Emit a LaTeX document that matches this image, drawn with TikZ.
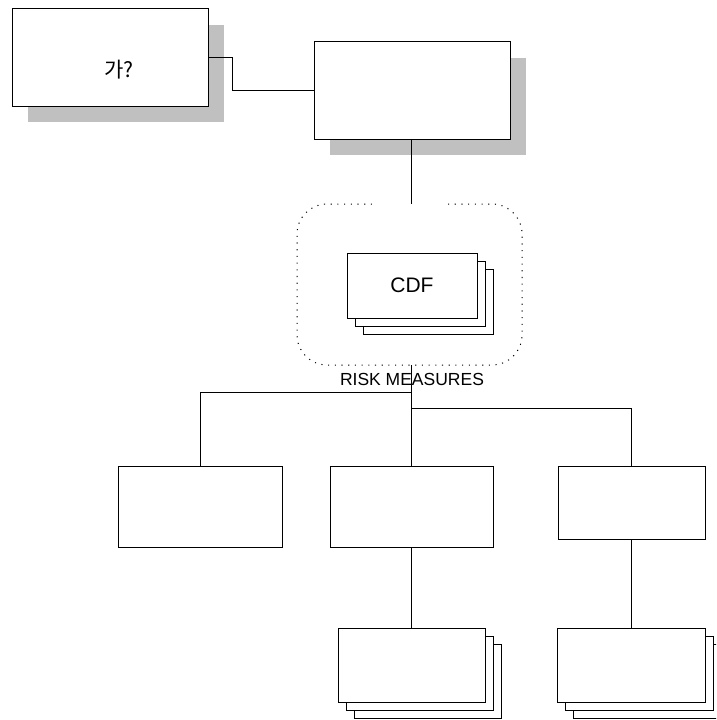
\documentclass[tikz,border=0pt]{standalone}
\usepackage{fontspec}
\setmainfont{Liberation Sans}
\newfontfamily\cjk{Noto Sans CJK KR}
\usetikzlibrary{shadows}
\definecolor{shadegray}{HTML}{C0C0C0}
\begin{document}
\begin{tikzpicture}[x=1pt,y=-1pt,
  box/.style={draw=black, fill=white, line width=1pt, inner sep=0pt, outer sep=0pt},
  shade/.style={fill=shadegray, draw=none, inner sep=0pt, outer sep=0pt},
  stack/.style={box, double copy shadow={shadow xshift=8pt, shadow yshift=-8pt, draw=black, fill=white, line width=1pt}},
  wire/.style={draw=black, line width=1pt},
  rim/.style={draw=black, line width=1pt, dash pattern=on 1.1pt off 5.6pt, rounded corners=30pt}]
\useasboundingbox (0,0) rectangle (716,720);
\clip (0,0) rectangle (716,720);

% top boxes with drop shadows
\node[shade, minimum width=196pt, minimum height=97pt] (s1) at (126,73.5) {};
\node[box, minimum width=196pt, minimum height=98pt] (b1) at (110,57) {};
\node[inner sep=0pt, font=\cjk\fontsize{21}{25}\selectfont] (t1) at (119,70) {가?};
\node[shade, minimum width=196pt, minimum height=97pt] (s2) at (428,106.5) {};
\node[box, minimum width=196pt, minimum height=98pt] (b2) at (412,90) {};

\draw[wire] (b1.east) -- ++(24,0) |- (b2.west);

% dotted group with the CDF stack
\coordinate (gtop) at (411.5,204);
\coordinate (gbot) at (411.5,365);
\draw[rim] (448,204) -- (522,204) -- (522,365) -- (297,365) -- (297,204) -- (373,204);
\node[stack, minimum width=130pt, minimum height=65pt, font=\fontsize{21}{25}\selectfont] (cdf) at (412,285.5) {CDF};
\draw[wire] (b2.south -| gtop) -- (gtop);

% tree below the group
\node[box, minimum width=164pt, minimum height=81pt] (lb) at (200,506.5) {};
\node[box, minimum width=163pt, minimum height=81pt] (mb) at (411.5,506.5) {};
\node[box, minimum width=147pt, minimum height=73pt] (rb) at (631.5,502.5) {};
\coordinate (jl) at (411.5,392);
\coordinate (jr) at (411.5,408);
\draw[wire] (gbot) -- (mb.north);
\draw[wire] (jl) -| (lb.north);
\draw[wire] (jr) -| (rb.north);
\node[inner sep=0pt, font=\fontsize{17.5}{21}\selectfont] (rm) at (412,379) {RISK MEASURES};

% stacked boxes at the bottom
\node[stack, minimum width=147pt, minimum height=74pt] (ms) at (411.5,665) {};
\node[stack, minimum width=148pt, minimum height=74pt] (rs) at (631.5,665) {};
\draw[wire] (mb.south) -- (ms.north);
\draw[wire] (rb.south) -- (rs.north);
\end{tikzpicture}
\end{document}
